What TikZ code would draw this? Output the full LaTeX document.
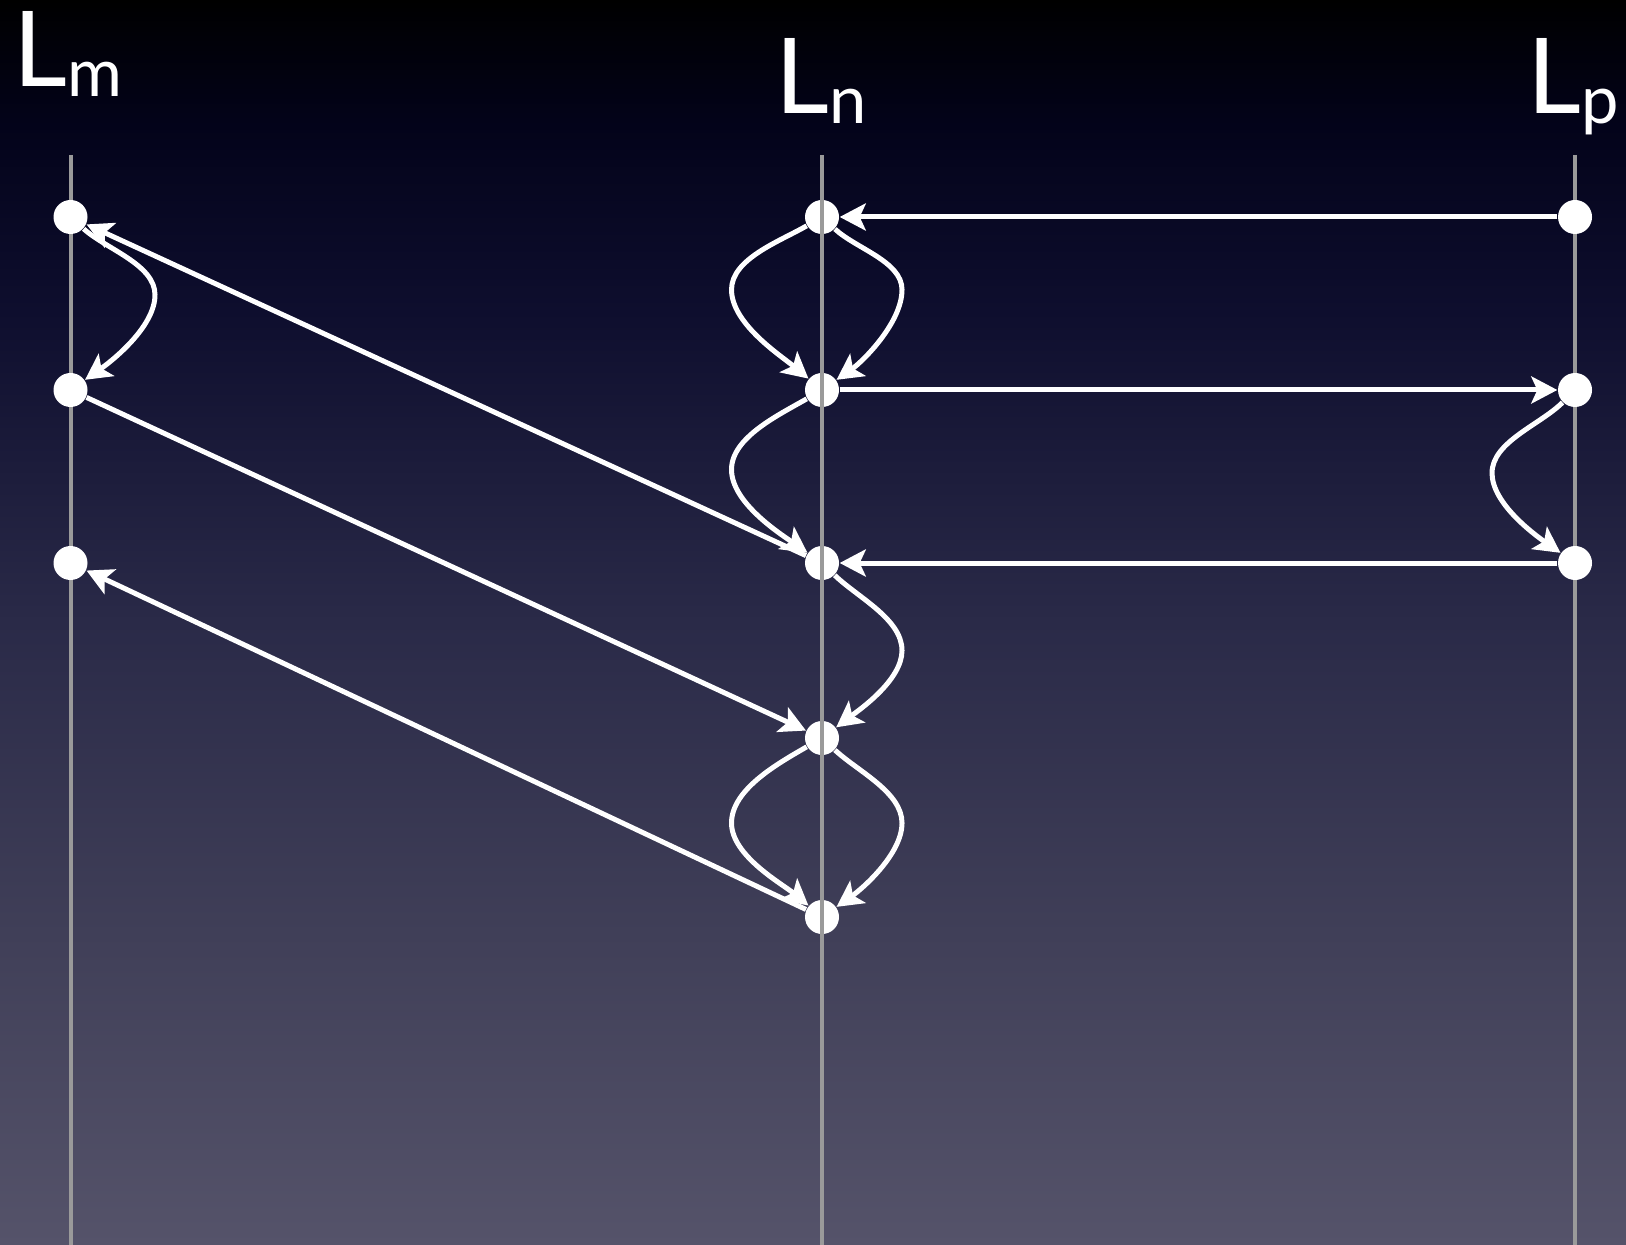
\documentclass[tikz,border=0pt]{standalone}
\usepackage{fontspec}
\setmainfont{Lato}
\usepackage{tikz}
\usetikzlibrary{arrows.meta,positioning,calc}
\definecolor{fondoalto}{HTML}{000000}
\definecolor{fondonoche}{HTML}{03031A}
\definecolor{fondoazul}{HTML}{0E0E2E}
\definecolor{fondomedio}{HTML}{2A2A48}
\definecolor{fondotarde}{HTML}{403F58}
\definecolor{fondobajo}{HTML}{55536A}
\definecolor{gris}{HTML}{9A9A9A}
% the path box is mapped to 25bp..75bp of the shading
\pgfdeclareverticalshading{cielo}{100bp}{color(0bp)=(fondobajo); color(25bp)=(fondobajo);
  color(37.5bp)=(fondotarde); color(50bp)=(fondomedio); color(62.5bp)=(fondoazul);
  color(70bp)=(fondonoche); color(75bp)=(fondoalto); color(100bp)=(fondoalto)}
\newcommand{\subind}[1]{\raisebox{-0.1cm}{\fontsize{19}{19}\selectfont #1}}
\tikzset{
  punto/.style={circle,fill=white,draw=none,minimum size=0.34cm,inner sep=0pt},
  linea/.style={draw=gris,line width=0.04cm},
  flecha/.style={-{Stealth[length=0.26cm,width=0.27cm,inset=0.06cm]},line width=0.05cm,color=white},
  etiqueta/.style={font=\fontsize{29.8}{30}\selectfont,text=white,inner sep=0pt,anchor=base west},
}
\begin{document}
\begin{tikzpicture}
  \useasboundingbox (0,0) rectangle (16.26,-12.45);
  \shade[shading=cielo] (0,0) rectangle (16.26,-12.45);
  \node[etiqueta] (lm) at (0.126,-0.87) {L\subind{m}};
  \node[etiqueta] (ln) at (7.746,-1.14) {L\subind{n}};
  \node[etiqueta] (lp) at (15.266,-1.14) {L\subind{p}};
  \draw[linea] (0.705,-1.55) -- (0.705,-12.45);
  \draw[linea] (15.75,-1.55) -- (15.75,-12.45);
  \foreach \i/\y in {1/2.17,2/3.90,3/5.63} {
    \node[punto] (m\i) at (0.705,-\y) {};
    \node[punto] (p\i) at (15.75,-\y) {};
  }
  \foreach \i/\y in {1/2.17,2/3.90,3/5.63,4/7.38,5/9.17} \node[punto] (n\i) at (8.22,-\y) {};
  \draw[linea] (8.22,-1.55) -- (8.22,-12.45);
  % mensajes entre lineas
  \draw[flecha] (p1) -- (n1);
  \draw[flecha] (n2) -- (p2);
  \draw[flecha] (p3) -- (n3);
  \draw[flecha] (n3) -- (m1);
  \draw[flecha] (m2) -- (n4);
  \draw[flecha] (n5) -- (m3);
  % pasos locales: origen/destino/altura del vientre/desvio/salida/llegada
  \foreach \a/\b/\f/\d/\o/\e in {m1/m2/0.45/0.845/-42/35, p2/p3/0.48/-0.83/-135/145,
      n1/n2/0.42/-0.905/-150/140, n1/n2/0.42/0.80/-43/35, n2/n3/0.46/-0.905/-150/145,
      n3/n4/0.5/0.80/-44/37, n4/n5/0.475/-0.905/-150/140, n4/n5/0.475/0.80/-43/35}
    \draw[flecha] (\a) to[out=\o,in=90,looseness=0.8] ($(\a)!\f!(\b)+(\d,0)$) to[out=-90,in=\e,looseness=0.75] (\b);
\end{tikzpicture}
\end{document}
